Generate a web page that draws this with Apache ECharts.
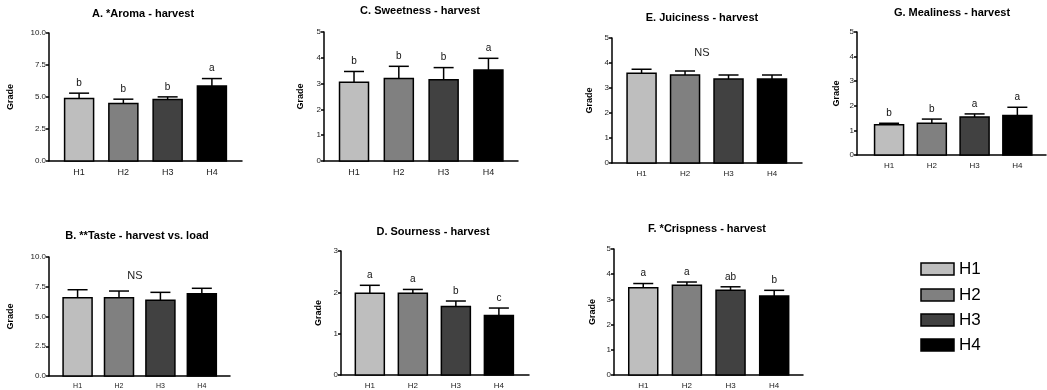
<!DOCTYPE html>
<html lang="en">
<head>
<meta charset="UTF-8">
<title>Sensory grades - harvest</title>
<script src="https://cdn.jsdelivr.net/npm/echarts@6/dist/echarts.min.js"></script>
<style>
    html, body { margin: 0; padding: 0; background: #fff; }
    #chart { width: 1047px; height: 390px; }
</style>
</head>
<body>
<div id="chart"></div>
<script>
// categories and fills
var categories = ['H1', 'H2', 'H3', 'H4'];
var barColors = ['#bebebe', '#808080', '#414141', '#000000'];

// means and upward error (SEM)
var aromaMean = [4.88, 4.49, 4.80, 5.85];
var aromaErr = [0.42, 0.34, 0.21, 0.59];
var aromaLetters = ['b', 'b', 'b', 'a'];

var sweetMean = [3.05, 3.20, 3.15, 3.53];
var sweetErr = [0.42, 0.47, 0.47, 0.45];
var sweetLetters = ['b', 'b', 'b', 'a'];

var juiceMean = [3.59, 3.52, 3.36, 3.36];
var juiceErr = [0.16, 0.16, 0.16, 0.16];
var juiceLetters = ['', '', '', ''];

var mealyMean = [1.23, 1.29, 1.54, 1.61];
var mealyErr = [0.06, 0.17, 0.13, 0.33];
var mealyLetters = ['b', 'b', 'a', 'a'];

var tasteMean = [6.58, 6.58, 6.36, 6.92];
var tasteErr = [0.67, 0.56, 0.67, 0.45];
var tasteLetters = ['', '', '', ''];

var sourMean = [1.98, 1.98, 1.66, 1.44];
var sourErr = [0.19, 0.09, 0.13, 0.18];
var sourLetters = ['a', 'a', 'b', 'c'];

var crispMean = [3.46, 3.56, 3.36, 3.13];
var crispErr = [0.17, 0.13, 0.14, 0.23];
var crispLetters = ['a', 'a', 'ab', 'b'];

var tickTen = [0, 2.5, 5, 7.5, 10];

var panels = [
    {title: 'A. *Aroma - harvest', mean: aromaMean, err: aromaErr, letters: aromaLetters, yMax: 10, yStep: 2.5, dec: 1,
        grid: {left: 49, top: 33, width: 193, height: 128}, xMin: 0.32, xMax: 4.68, nameGap: 34, tx: 143, ty: 14, xFont: 9},
    {title: 'C. Sweetness - harvest', mean: sweetMean, err: sweetErr, letters: sweetLetters, yMax: 5, yStep: 1, dec: 0,
        grid: {left: 324, top: 32, width: 194, height: 129}, xMin: 0.33, xMax: 4.66, nameGap: 19, tx: 420, ty: 11, xFont: 9},
    {title: 'E. Juiciness - harvest', mean: juiceMean, err: juiceErr, letters: juiceLetters, yMax: 5, yStep: 1, dec: 0,
        grid: {left: 612, top: 38, width: 190, height: 125}, xMin: 0.32, xMax: 4.69, nameGap: 18, tx: 702, ty: 18, xFont: 8,
        ns: [702, 53]},
    {title: 'G. Mealiness - harvest', mean: mealyMean, err: mealyErr, letters: mealyLetters, yMax: 5, yStep: 1, dec: 0,
        grid: {left: 857, top: 32, width: 189, height: 123}, xMin: 0.25, xMax: 4.67, nameGap: 16, tx: 952, ty: 13, xFont: 8},
    {title: 'B. **Taste - harvest vs. load', mean: tasteMean, err: tasteErr, letters: tasteLetters, yMax: 10, yStep: 2.5, dec: 1,
        grid: {left: 49, top: 257, width: 181, height: 119}, xMin: 0.31, xMax: 4.68, nameGap: 34, tx: 137, ty: 236, xFont: 7,
        ns: [135, 276]},
    {title: 'D. Sourness - harvest', mean: sourMean, err: sourErr, letters: sourLetters, yMax: 3, yStep: 1, dec: 0,
        grid: {left: 341, top: 251, width: 188, height: 125}, xMin: 0.33, xMax: 4.70, nameGap: 18, tx: 433, ty: 232, xFont: 8},
    {title: 'F. *Crispness - harvest', mean: crispMean, err: crispErr, letters: crispLetters, yMax: 5, yStep: 1, dec: 0,
        grid: {left: 614, top: 249, width: 189, height: 126}, xMin: 0.33, xMax: 4.66, nameGap: 17, tx: 707, ty: 229, xFont: 8}
];

var FONT = 'Liberation Sans, Arial, sans-serif';

function makeRender(p) {
    return function (params, api) {
        var i = params.dataIndex;
        var x = api.value(0), v = api.value(1), e = api.value(2);
        var base = api.coord([x, 0]);
        var top = api.coord([x, v]);
        var etop = api.coord([x, v + e]);
        var w = 29;
        var kids = [
            {type: 'line', shape: {x1: etop[0], y1: top[1], x2: etop[0], y2: etop[1]},
                style: {stroke: '#000', lineWidth: 1.5}},
            {type: 'line', shape: {x1: etop[0] - 10, y1: etop[1], x2: etop[0] + 10, y2: etop[1]},
                style: {stroke: '#000', lineWidth: 1.5}},
            {type: 'rect', shape: {x: base[0] - w / 2, y: top[1], width: w, height: base[1] - top[1]},
                style: {fill: barColors[i], stroke: '#000', lineWidth: 1.5}}
        ];
        if (p.letters[i]) {
            kids.push({type: 'text', style: {text: p.letters[i], x: etop[0], y: etop[1] - 10,
                    align: 'center', verticalAlign: 'middle', font: '10px ' + FONT, fill: '#111'}});
        }
        return {type: 'group', children: kids};
    };
}

var grids = [], xAxes = [], yAxes = [], series = [], graphics = [];

panels.forEach(function (p, k) {
    grids.push(p.grid);
    xAxes.push({
        type: 'value', gridIndex: k, min: p.xMin, max: p.xMax,
        axisLine: {lineStyle: {color: '#000', width: 1.5}},
        axisTick: {show: false},
        splitLine: {show: false},
        axisLabel: {
            fontFamily: FONT, fontSize: p.xFont, color: '#222', margin: 7,
            showMinLabel: false, showMaxLabel: false,
            formatter: function (val) {
                return (Math.abs(val - Math.round(val)) < 1e-6 && val >= 1 && val <= 4) ? categories[Math.round(val) - 1] : '';
            }
        }
    });
    yAxes.push({
        type: 'value', gridIndex: k, min: 0, max: p.yMax, interval: p.yStep,
        name: 'Grade', nameLocation: 'middle', nameRotate: 90, nameGap: p.nameGap,
        nameTextStyle: {fontFamily: FONT, fontSize: 9, fontWeight: 'bold', color: '#000'},
        axisLine: {show: true, lineStyle: {color: '#000', width: 1.5}},
        axisTick: {show: true, length: 3, lineStyle: {color: '#000', width: 1.5}},
        splitLine: {show: false},
        axisLabel: {
            fontFamily: FONT, fontSize: 8, color: '#222', margin: 3,
            formatter: function (val) { return val.toFixed(p.dec); }
        }
    });
    series.push({
        type: 'custom', xAxisIndex: k, yAxisIndex: k,
        renderItem: makeRender(p),
        data: p.mean.map(function (m, i) { return [i + 1, m, p.err[i]]; }),
        z: 3
    });
    graphics.push({type: 'text', x: p.tx, y: p.ty,
        style: {text: p.title, align: 'center', verticalAlign: 'middle',
            font: 'bold 11px ' + FONT, fill: '#000'}});
    if (p.ns) {
        graphics.push({type: 'text', x: p.ns[0], y: p.ns[1],
            style: {text: 'NS', align: 'center', verticalAlign: 'middle', font: '11px ' + FONT, fill: '#222'}});
    }
});

// legend box drawn by hand
var legendY = [269, 295, 320, 345];
categories.forEach(function (c, i) {
    graphics.push({type: 'rect', shape: {x: 921, y: legendY[i] - 6, width: 33, height: 12},
        style: {fill: barColors[i], stroke: '#000', lineWidth: 1.5}});
    graphics.push({type: 'text', x: 959, y: legendY[i],
        style: {text: c, align: 'left', verticalAlign: 'middle', font: '17px ' + FONT, fill: '#000'}});
});

var myChart = echarts.init(document.getElementById('chart'));
myChart.setOption({
    animation: false,
    backgroundColor: '#fff',
    grid: grids,
    xAxis: xAxes,
    yAxis: yAxes,
    series: series,
    graphic: graphics
});
</script>
</body>
</html>
